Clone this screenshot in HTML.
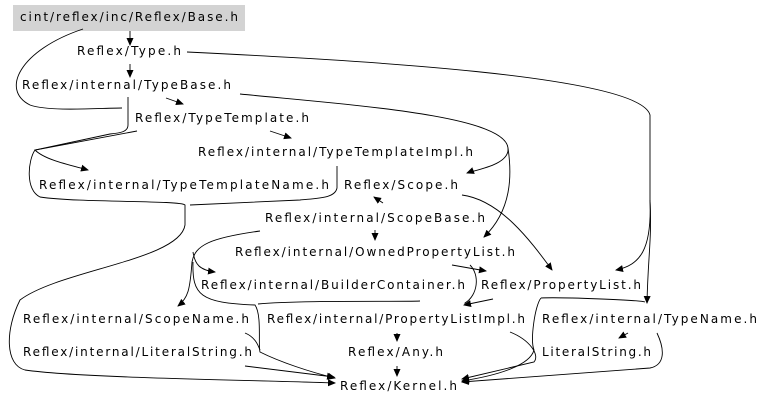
<!DOCTYPE html>
<html><head><meta charset="utf-8"><style>
html,body{margin:0;padding:0;background:#fff;width:768px;height:403px;overflow:hidden}
svg text{font-family:"DejaVu Sans","Liberation Sans",sans-serif;font-size:12px;fill:#000}
</style></head><body>
<svg width="768" height="403" viewBox="0 0 768 403" xmlns="http://www.w3.org/2000/svg">
<defs><marker id="a" markerWidth="8" markerHeight="8" refX="7" refY="4" orient="auto" markerUnits="userSpaceOnUse"><path d="M0,0.5 L8,4 L0,7.5 z" fill="#000"/></marker></defs>
<rect x="13" y="5" width="232" height="26" fill="#d3d3d3"/>
<g fill="none" stroke="#000" stroke-width="0.9">
<path d="M130,31 L130,45" marker-end="url(#a)"/>
<path d="M130,64 L130,77" marker-end="url(#a)"/>
<path d="M166,98 L183,104" marker-end="url(#a)"/>
<path d="M270,131 L291,138" marker-end="url(#a)"/>
<path d="M83,29 C20,50 0,90 30,105 C50,112 100,108 122,108"/>
<path d="M128,97 L128,125 C128,132 120,133 110,134 L35,150 C28,160 25,190 40,197 C80,203 180,200 185,205 L185,225 C180,260 60,270 20,300 C5,330 5,365 25,370 C80,378 250,380 335,383" marker-end="url(#a)"/>
<path d="M137,131 L35,150 C45,160 70,165 88,170" marker-end="url(#a)"/>
<path d="M508,148 C510,165 475,170 467,173" marker-end="url(#a)"/>
<path d="M240,94 C350,105 505,115 508,148 C512,175 512,210 484,237" marker-end="url(#a)"/>
<path d="M187,52 C350,60 640,75 650,115 L650,200 C652,250 640,265 616,270" marker-end="url(#a)"/>
<path d="M650,200 C652,240 648,255 647,303" marker-end="url(#a)"/>
<path d="M337,166 L337,188 C335,198 320,198 300,200 L190,205"/>
<path d="M383,203 L374,197" marker-end="url(#a)"/>
<path d="M375,230 L375,240" marker-end="url(#a)"/>
<path d="M260,231 C210,238 195,245 192,262 C190,290 188,298 178,306" marker-end="url(#a)"/>
<path d="M193,252 C195,265 200,270 215,272" marker-end="url(#a)"/>
<path d="M193,262 C192,295 200,303 255,305 C262,315 258,345 260,352 C280,362 310,372 335,378" marker-end="url(#a)"/>
<path d="M245,333 C255,337 258,345 260,350"/>
<path d="M245,366 L334,377" marker-end="url(#a)"/>
<path d="M452,265 L486,271" marker-end="url(#a)"/>
<path d="M470,265 C480,275 478,295 465,303 L465,305"/>
<path d="M493,299 L464,305" marker-end="url(#a)"/>
<path d="M258,304 C300,300 400,302 420,301"/>
<path d="M541,298 C560,297 640,300 645,302"/>
<path d="M541,298 C535,305 530,340 534,350 C530,365 500,375 462,381" marker-end="url(#a)"/>
<path d="M462,195 C500,200 530,240 552,270" marker-end="url(#a)"/>
<path d="M397,333 L397,341" marker-end="url(#a)"/>
<path d="M397,366 L397,376" marker-end="url(#a)"/>
<path d="M510,332 C530,340 540,355 534,362 L462,379" marker-end="url(#a)"/>
<path d="M628,333 L619,338" marker-end="url(#a)"/>
<path d="M657,333 C665,350 665,365 650,368 L462,382" marker-end="url(#a)"/>
</g>
<text x="20" y="21" textLength="218" lengthAdjust="spacing">cint/reflex/inc/Reflex/Base.h</text>
<text x="77" y="55" textLength="104" lengthAdjust="spacing">Reflex/Type.h</text>
<text x="22" y="89" textLength="209" lengthAdjust="spacing">Reflex/internal/TypeBase.h</text>
<text x="135" y="122" textLength="174" lengthAdjust="spacing">Reflex/TypeTemplate.h</text>
<text x="198" y="156" textLength="275" lengthAdjust="spacing">Reflex/internal/TypeTemplateImpl.h</text>
<text x="39" y="189" textLength="290" lengthAdjust="spacing">Reflex/internal/TypeTemplateName.h</text>
<text x="344" y="189" textLength="114" lengthAdjust="spacing">Reflex/Scope.h</text>
<text x="265" y="222" textLength="220" lengthAdjust="spacing">Reflex/internal/ScopeBase.h</text>
<text x="235" y="256" textLength="280" lengthAdjust="spacing">Reflex/internal/OwnedPropertyList.h</text>
<text x="201" y="289" textLength="264" lengthAdjust="spacing">Reflex/internal/BuilderContainer.h</text>
<text x="481" y="289" textLength="160" lengthAdjust="spacing">Reflex/PropertyList.h</text>
<text x="23" y="323" textLength="226" lengthAdjust="spacing">Reflex/internal/ScopeName.h</text>
<text x="267" y="323" textLength="258" lengthAdjust="spacing">Reflex/internal/PropertyListImpl.h</text>
<text x="542" y="323" textLength="215" lengthAdjust="spacing">Reflex/internal/TypeName.h</text>
<text x="23" y="356" textLength="229" lengthAdjust="spacing">Reflex/internal/LiteralString.h</text>
<text x="348" y="356" textLength="95" lengthAdjust="spacing">Reflex/Any.h</text>
<text x="542" y="356" textLength="109" lengthAdjust="spacing">LiteralString.h</text>
<text x="340" y="390" textLength="117" lengthAdjust="spacing">Reflex/Kernel.h</text>
</svg>
</body></html>
